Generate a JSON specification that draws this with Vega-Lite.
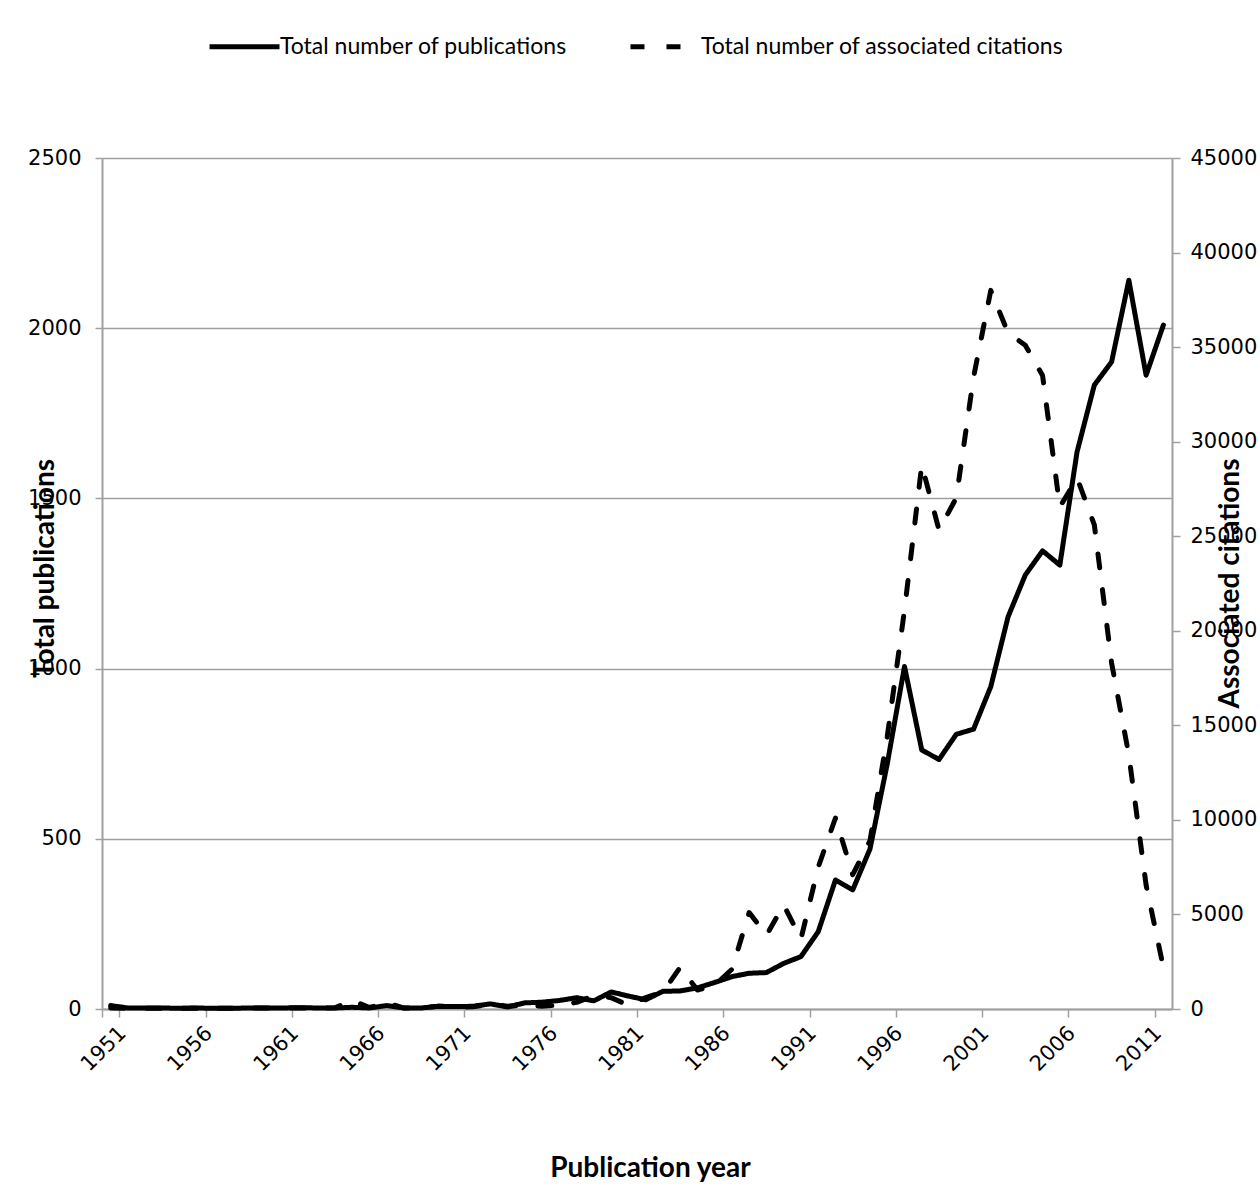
{
  "$schema": "https://vega.github.io/schema/vega-lite/v6.json",
  "width": 1070,
  "height": 851,
  "autosize": {"type": "none"},
  "padding": {"left": 102, "top": 158, "right": 88, "bottom": 185},
  "background": "white",
  "config": {
    "view": {"stroke": null},
    "axis": {
      "domainColor": "#a0a0a0",
      "domainWidth": 2,
      "tickColor": "#a0a0a0",
      "tickWidth": 1.5,
      "gridColor": "#a0a0a0",
      "gridWidth": 1.5,
      "labelFont": "DejaVu Sans",
      "labelFontSize": 21,
      "labelColor": "black",
      "titleFont": "Lato",
      "titleFontWeight": "bold",
      "titleFontSize": 28,
      "titleColor": "black"
    }
  },
  "data": {
    "values": [
      {"year": 1951, "publications": 10, "citations": 50},
      {"year": 1952, "publications": 3, "citations": 40},
      {"year": 1953, "publications": 3, "citations": 40},
      {"year": 1954, "publications": 3, "citations": 40},
      {"year": 1955, "publications": 2, "citations": 40},
      {"year": 1956, "publications": 3, "citations": 40},
      {"year": 1957, "publications": 2, "citations": 40},
      {"year": 1958, "publications": 2, "citations": 40},
      {"year": 1959, "publications": 3, "citations": 50},
      {"year": 1960, "publications": 3, "citations": 50},
      {"year": 1961, "publications": 3, "citations": 50},
      {"year": 1962, "publications": 4, "citations": 50},
      {"year": 1963, "publications": 3, "citations": 50},
      {"year": 1964, "publications": 3, "citations": 60},
      {"year": 1965, "publications": 5, "citations": 450},
      {"year": 1966, "publications": 3, "citations": 80},
      {"year": 1967, "publications": 10, "citations": 330},
      {"year": 1968, "publications": 3, "citations": 50},
      {"year": 1969, "publications": 3, "citations": 50},
      {"year": 1970, "publications": 8, "citations": 150},
      {"year": 1971, "publications": 7, "citations": 100},
      {"year": 1972, "publications": 8, "citations": 120},
      {"year": 1973, "publications": 15, "citations": 250},
      {"year": 1974, "publications": 6, "citations": 150},
      {"year": 1975, "publications": 18, "citations": 200},
      {"year": 1976, "publications": 20, "citations": 150},
      {"year": 1977, "publications": 25, "citations": 200},
      {"year": 1978, "publications": 33, "citations": 350},
      {"year": 1979, "publications": 24, "citations": 700},
      {"year": 1980, "publications": 50, "citations": 600},
      {"year": 1981, "publications": 38, "citations": 200},
      {"year": 1982, "publications": 27, "citations": 600},
      {"year": 1983, "publications": 52, "citations": 900},
      {"year": 1984, "publications": 53, "citations": 2200},
      {"year": 1985, "publications": 62, "citations": 1000},
      {"year": 1986, "publications": 78, "citations": 1250},
      {"year": 1987, "publications": 95, "citations": 2100},
      {"year": 1988, "publications": 105, "citations": 5100},
      {"year": 1989, "publications": 107, "citations": 3900},
      {"year": 1990, "publications": 134, "citations": 5500},
      {"year": 1991, "publications": 154, "citations": 3700},
      {"year": 1992, "publications": 227, "citations": 7500},
      {"year": 1993, "publications": 379, "citations": 10100},
      {"year": 1994, "publications": 350, "citations": 7100},
      {"year": 1995, "publications": 470, "citations": 8900},
      {"year": 1996, "publications": 720, "citations": 14400},
      {"year": 1997, "publications": 1006, "citations": 21100},
      {"year": 1998, "publications": 761, "citations": 28770},
      {"year": 1999, "publications": 733, "citations": 25330},
      {"year": 2000, "publications": 807, "citations": 27020},
      {"year": 2001, "publications": 822, "citations": 33400},
      {"year": 2002, "publications": 947, "citations": 38000},
      {"year": 2003, "publications": 1152, "citations": 35750},
      {"year": 2004, "publications": 1275, "citations": 35100},
      {"year": 2005, "publications": 1346, "citations": 33500},
      {"year": 2006, "publications": 1304, "citations": 26550},
      {"year": 2007, "publications": 1637, "citations": 28080},
      {"year": 2008, "publications": 1833, "citations": 25600},
      {"year": 2009, "publications": 1901, "citations": 18300},
      {"year": 2010, "publications": 2141, "citations": 13430},
      {"year": 2011, "publications": 1862, "citations": 6550},
      {"year": 2012, "publications": 2009, "citations": 2200}
    ]
  },
  "encoding": {
    "x": {
      "field": "year",
      "type": "ordinal",
      "bandPosition": 0.5,
      "scale": {"type": "band", "paddingInner": 0, "paddingOuter": 0},
      "axis": {
        "title": "Publication year",
        "values": [1951, 1956, 1961, 1966, 1971, 1976, 1981, 1986, 1991, 1996, 2001, 2006, 2011],
        "tickBand": "extent",
        "tickSize": 8,
        "labelAngle": -45,
        "labelPadding": 5,
        "labelOffset": 4,
        "titleX": 548,
        "titleY": 159,
        "titleBaseline": "middle",
        "grid": false
      }
    }
  },
  "layer": [
    {
      "mark": {"type": "line", "color": "black", "strokeWidth": 5, "strokeCap": "round", "strokeJoin": "round"},
      "encoding": {
        "y": {
          "field": "publications",
          "type": "quantitative",
          "scale": {"domain": [0, 2500]},
          "axis": {
            "title": "Total publications",
            "values": [0, 500, 1000, 1500, 2000, 2500],
            "format": "d",
            "grid": true,
            "tickSize": 7,
            "labelPadding": 14,
            "titleAngle": 270,
            "titleBaseline": "middle",
            "titleX": -57,
            "titleY": 410
          }
        },
        "strokeDash": {
          "datum": "Total number of publications",
          "type": "nominal",
          "scale": {
            "domain": ["Total number of publications", "Total number of associated citations"],
            "range": [[1, 0], [14, 22]]
          },
          "legend": {
            "title": null,
            "orient": "none",
            "direction": "horizontal",
            "legendX": 105,
            "legendY": -149,
            "padding": 0,
            "symbolType": "stroke",
            "symbolSize": 4900,
            "symbolStrokeWidth": 5,
            "symbolStrokeColor": "black",
            "labelFont": "Lato",
            "labelFontSize": 23,
            "labelColor": "black",
            "labelOffset": -2,
            "columnPadding": 52,
            "labelLimit": 500
          }
        }
      }
    },
    {
      "mark": {"type": "line", "color": "black", "strokeWidth": 5, "strokeCap": "round", "strokeJoin": "round"},
      "encoding": {
        "y": {
          "field": "citations",
          "type": "quantitative",
          "scale": {"domain": [0, 45000]},
          "axis": {
            "orient": "right",
            "title": "Associated citations",
            "values": [0, 5000, 10000, 15000, 20000, 25000, 30000, 35000, 40000, 45000],
            "format": "d",
            "grid": false,
            "tickSize": 8,
            "labelPadding": 10,
            "titleAngle": 270,
            "titleBaseline": "middle",
            "titleX": 58,
            "titleY": 425
          }
        },
        "strokeDash": {"datum": "Total number of associated citations", "type": "nominal"}
      }
    }
  ],
  "resolve": {"scale": {"y": "independent"}, "axis": {"y": "independent"}}
}
